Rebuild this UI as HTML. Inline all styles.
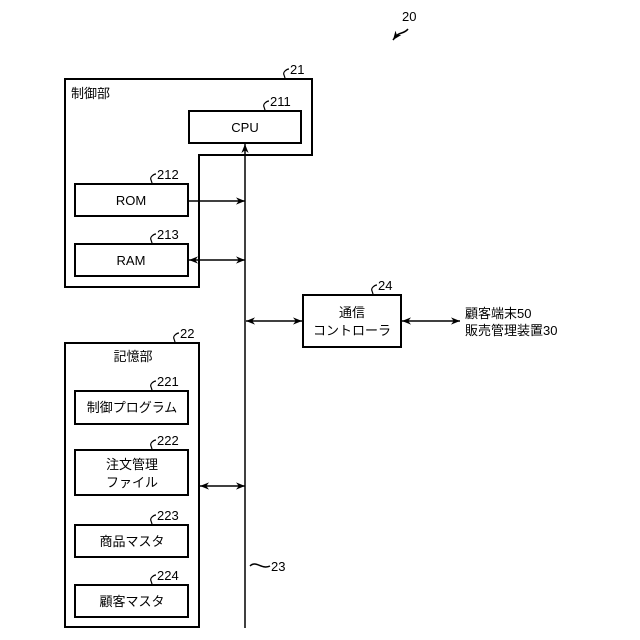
<!DOCTYPE html>
<html><head><meta charset="utf-8"><style>
html,body{margin:0;padding:0;background:#fff;}
svg{display:block;}
text{font-family:"Liberation Sans","Noto Sans CJK JP",sans-serif;fill:#000;}
</style></head><body>
<svg width="640" height="640" viewBox="0 0 640 640" xmlns="http://www.w3.org/2000/svg">
<defs>
<marker id="a" viewBox="0 0 10 10" refX="10" refY="5" markerWidth="9" markerHeight="9" orient="auto-start-reverse" markerUnits="userSpaceOnUse">
<path d="M0,1 L10,5 L0,9 L3,5 Z" fill="#000"/></marker>
</defs>
<g fill="none" stroke="#000" stroke-width="2">
<path d="M65,79 H312 V155 H199 V287 H65 Z"/>
<rect x="189" y="111" width="112" height="32"/>
<rect x="75" y="184" width="113" height="32"/>
<rect x="75" y="244" width="113" height="32"/>
<rect x="65" y="343" width="134" height="284"/>
<rect x="75" y="391" width="113" height="33"/>
<rect x="75" y="450" width="113" height="45"/>
<rect x="75" y="525" width="113" height="32"/>
<rect x="75" y="585" width="113" height="32"/>
<rect x="303" y="295" width="98" height="52"/>
</g>
<g stroke="#000" stroke-width="1.5" fill="none">
<line x1="245" y1="628" x2="245" y2="144" marker-end="url(#a)"/>
<line x1="189" y1="201" x2="245" y2="201" marker-end="url(#a)"/>
<line x1="189" y1="260" x2="245" y2="260" marker-start="url(#a)" marker-end="url(#a)"/>
<line x1="200" y1="486" x2="245" y2="486" marker-start="url(#a)" marker-end="url(#a)"/>
<line x1="246" y1="321" x2="302" y2="321" marker-start="url(#a)" marker-end="url(#a)"/>
<line x1="402" y1="321" x2="460" y2="321" marker-start="url(#a)" marker-end="url(#a)"/>
<path d="M408,29 C404,34 400,32 396,36 L393,40" marker-end="url(#a)"/>
<path d="M250,566 C256,560 262,570 270,566"/>
<path stroke-width="1.2" d="M285,79 c0,-4 -3,-5 0,-8 c2,-2 3,-2 4,-2"/>
<path stroke-width="1.2" d="M265,111 c0,-4 -3,-5 0,-8 c2,-2 3,-2 4,-2"/>
<path stroke-width="1.2" d="M152,184 c0,-4 -3,-5 0,-8 c2,-2 3,-2 4,-2"/>
<path stroke-width="1.2" d="M152,244 c0,-4 -3,-5 0,-8 c2,-2 3,-2 4,-2"/>
<path stroke-width="1.2" d="M175,343 c0,-4 -3,-5 0,-8 c2,-2 3,-2 4,-2"/>
<path stroke-width="1.2" d="M152,391 c0,-4 -3,-5 0,-8 c2,-2 3,-2 4,-2"/>
<path stroke-width="1.2" d="M152,450 c0,-4 -3,-5 0,-8 c2,-2 3,-2 4,-2"/>
<path stroke-width="1.2" d="M152,525 c0,-4 -3,-5 0,-8 c2,-2 3,-2 4,-2"/>
<path stroke-width="1.2" d="M152,585 c0,-4 -3,-5 0,-8 c2,-2 3,-2 4,-2"/>
<path stroke-width="1.2" d="M373,295 c0,-4 -3,-5 0,-8 c2,-2 3,-2 4,-2"/>
</g>
<g font-size="13">
<text x="402" y="21">20</text>
<text x="290" y="74">21</text>
<text x="270" y="106">211</text>
<text x="157" y="179">212</text>
<text x="157" y="239">213</text>
<text x="180" y="338">22</text>
<text x="157" y="386">221</text>
<text x="157" y="445">222</text>
<text x="157" y="520">223</text>
<text x="157" y="580">224</text>
<text x="378" y="290">24</text>
<text x="271" y="571">23</text>
</g>
<g font-size="13" text-anchor="middle">
<text x="245" y="132">CPU</text>
<text x="131" y="205">ROM</text>
<text x="131" y="265">RAM</text>
<text x="132" y="412">制御プログラム</text>
<text x="132" y="469">注文管理</text>
<text x="132" y="487">ファイル</text>
<text x="132" y="546">商品マスタ</text>
<text x="132" y="606">顧客マスタ</text>
<text x="352" y="317">通信</text>
<text x="352" y="335">コントローラ</text>
<text x="133" y="361">記憶部</text>
</g>
<g font-size="13">
<text x="71" y="98">制御部</text>
<text x="465" y="318">顧客端末50</text>
<text x="465" y="335">販売管理装置30</text>
</g>
</svg>
</body></html>
